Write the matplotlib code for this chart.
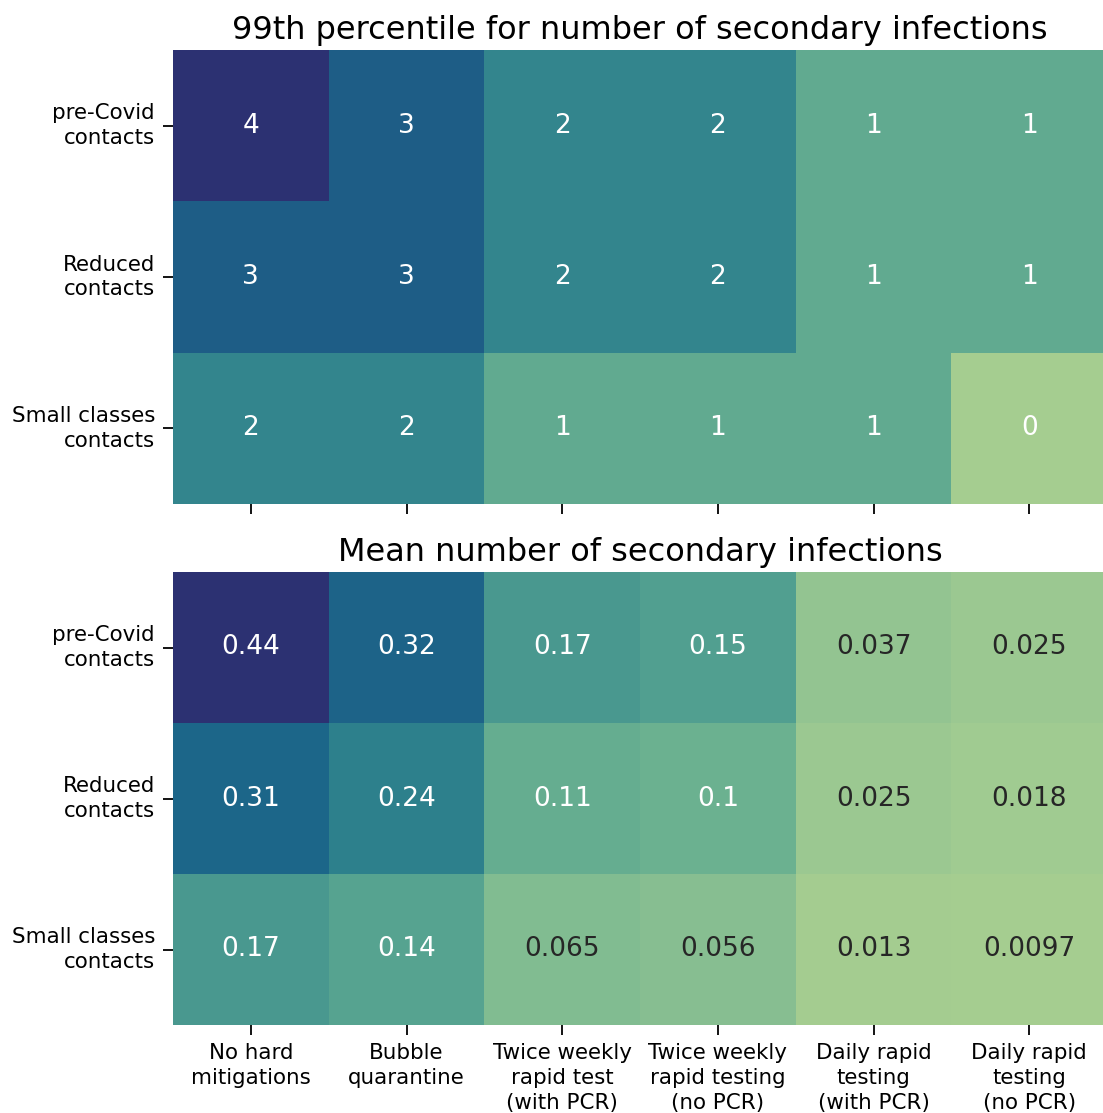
import numpy as np
import matplotlib
matplotlib.use("Agg")
import matplotlib.pyplot as plt
import seaborn as sns

# --- donnees ---
rows = ["pre-Covid\ncontacts", "Reduced\ncontacts", "Small classes\ncontacts"]
cols = ["No hard\nmitigations", "Bubble\nquarantine", "Twice weekly\nrapid test\n(with PCR)",
        "Twice weekly\nrapid testing\n(no PCR)", "Daily rapid\ntesting\n(with PCR)",
        "Daily rapid\ntesting\n(no PCR)"]
p99 = [[4, 3, 2, 2, 1, 1],
       [3, 3, 2, 2, 1, 1],
       [2, 2, 1, 1, 1, 0]]
mean = [[0.44, 0.32, 0.17, 0.15, 0.037, 0.025],
        [0.31, 0.24, 0.11, 0.1, 0.025, 0.018],
        [0.17, 0.14, 0.065, 0.056, 0.013, 0.0097]]

fig = plt.figure(figsize=(11.03, 11.13), dpi=100)
W = 934 / 1103
ax1 = fig.add_axes([173 / 1103, 1 - 504 / 1113, W, 454 / 1113])
ax2 = fig.add_axes([173 / 1103, 1 - 1025 / 1113, W, 453 / 1113])

for ax, data, title in [(ax1, p99, "99th percentile for number of secondary infections"),
                        (ax2, mean, "Mean number of secondary infections")]:
    sns.heatmap(np.array(data), ax=ax, cmap="crest", annot=True, cbar=False,
                annot_kws={"fontsize": 19}, xticklabels=cols, yticklabels=rows)
    ax.set_title(title, fontsize=23, pad=8)
    ax.tick_params(axis="both", labelsize=15.4, length=7, width=1.3, pad=6)
    ax.set_yticklabels(rows, rotation=0, ha="right", linespacing=1.3)

# dans l'original, les annotations du haut sont toutes blanches
for t in ax1.texts:
    t.set_color("white")

ax1.set_xticklabels([])
ax2.set_xticklabels(cols, rotation=0, ha="center", linespacing=1.3)

fig.savefig("out.png", dpi=100)
